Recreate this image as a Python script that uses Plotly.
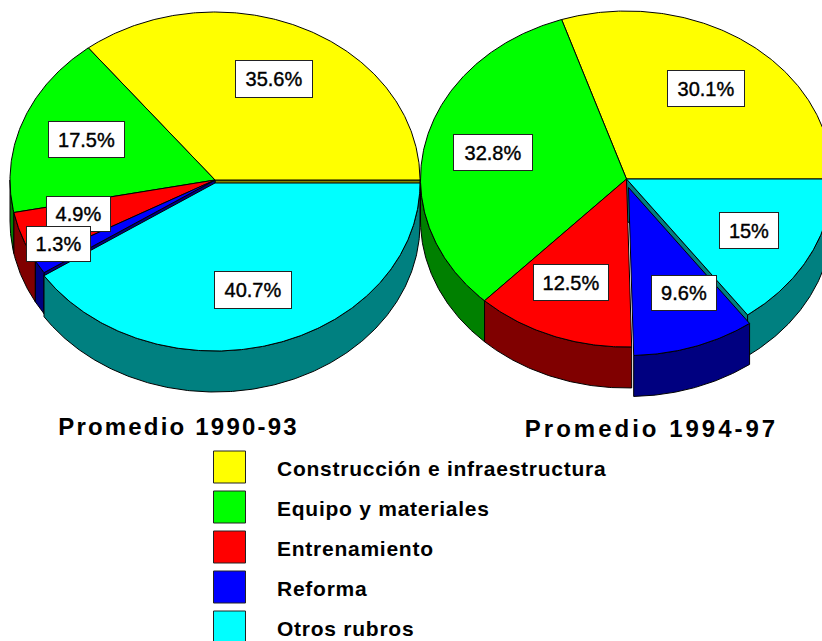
import numpy as np
import plotly.graph_objects as go

categories = ["Construcción e infraestructura", "Equipo y materiales", "Entrenamiento", "Reforma", "Otros rubros"]
values_1990_93 = [35.6, 17.5, 4.9, 1.3, 40.7]
values_1994_97 = [30.1, 32.8, 12.5, 9.6, 15.0]
labels_1990_93 = ["35.6%", "17.5%", "4.9%", "1.3%", "40.7%"]
labels_1994_97 = ["30.1%", "32.8%", "12.5%", "9.6%", "15%"]
titles = ["Promedio 1990-93", "Promedio 1994-97"]

TOP = ["#ffff00", "#00ff00", "#ff0000", "#0000ff", "#00ffff"]
SIDE = ["#808000", "#008000", "#800000", "#000080", "#008080"]
FONT = "Liberation Sans"
W, H = 822, 641
DEPTH = 41

fig = go.Figure()


def poly(xs, ys, color):
    fig.add_trace(go.Scatter(x=list(xs), y=list(ys), mode="lines", fill="toself", fillcolor=color,
                             line=dict(color="#000000", width=1), hoverinfo="skip", showlegend=False))


def arc(cx, cy, rx, ry, a0, a1):
    n = max(int(abs(a1 - a0)) * 2, 3)
    t = np.radians(np.linspace(a0, a1, n))
    return cx + rx * np.cos(t), cy - ry * np.sin(t)


def top(geom, a0, a1, color):
    cx, cy, rx, ry = geom
    ax, ay = arc(cx, cy, rx, ry, a0, a1)
    poly(np.r_[cx, ax, cx], np.r_[cy, ay, cy], color)


def outer_wall(geom, a0, a1, color):
    cx, cy, rx, ry = geom
    # only the near half of the rim can be seen
    a0, a1 = max(a0, 180), min(a1, 360)
    if a1 <= a0:
        return
    ax, ay = arc(cx, cy, rx, ry, a0, a1)
    poly(np.r_[ax, ax[::-1], ax[0]], np.r_[ay, ay[::-1] + DEPTH, ay[0]], color)


def cut_wall(geom, a, color):
    cx, cy, rx, ry = geom
    ex, ey = arc(cx, cy, rx, ry, a, a + 0.001)
    poly([cx, ex[0], ex[0], cx, cx], [cy, ey[0], ey[0] + DEPTH, cy + DEPTH, cy], color)


def bounds(values):
    edges = np.cumsum([0] + list(values)) / sum(values) * 360
    return edges[:-1], edges[1:]


# ---------- left pie: the last slice is pulled slightly towards the viewer
L = (215, 180, 205, 168)
L_PULLED = (215, 183, 205, 168)
a0, a1 = bounds(values_1990_93)
cut_wall(L, 0, SIDE[0])
cut_wall(L, a1[3], SIDE[3])
for i in range(4):
    outer_wall(L, a0[i], a1[i], SIDE[i])
for i in range(4):
    top(L, a0[i], a1[i], TOP[i])
outer_wall(L_PULLED, a0[4], a1[4], SIDE[4])
top(L_PULLED, a0[4], a1[4], TOP[4])

# ---------- right pie: the fourth slice is pulled out
R = (626.5, 179, 206, 168)
R_PULLED = (628.5, 187.5, 206, 168)
b0, b1 = bounds(values_1994_97)
cut_wall(R, b0[4], SIDE[4])
for i in (1, 2, 4):
    outer_wall(R, b0[i], b1[i], SIDE[i])
for i in (0, 1, 2, 4):
    top(R, b0[i], b1[i], TOP[i])
outer_wall(R_PULLED, b0[3], b1[3], SIDE[3])
top(R_PULLED, b0[3], b1[3], TOP[3])

# ---------- slice labels
left_boxes = [(274, 79, 78, 38), (86, 139, 77, 37), (78, 214, 65, 36), (58, 244, 65, 36), (253, 290, 78, 38)]
right_boxes = [(706, 88, 78, 37), (493, 152, 80, 37), (571, 282, 76, 37), (684, 293, 66, 36), (749, 230, 60, 37)]
for text, (x, y, w, h) in list(zip(labels_1990_93, left_boxes)) + list(zip(labels_1994_97, right_boxes)):
    fig.add_annotation(x=x, y=y, text=text, showarrow=False, width=w - 2, height=h - 2,
                       bgcolor="#ffffff", bordercolor="#222222", borderwidth=1, borderpad=0,
                       align="center", valign="middle", font=dict(family=FONT, size=20, color="#000000"))

# ---------- titles
for text, x, y in zip(titles, (178.5, 651.5), (429, 431)):
    fig.add_trace(go.Scatter(x=[x], y=[y], mode="text", text=[text], textposition="middle center",
                             textfont=dict(family=FONT, size=24, color="#000000", weight="bold"),
                             hoverinfo="skip", showlegend=False))

# ---------- legend
legend_y = [467, 507, 547, 587, 627]
fig.add_trace(go.Scatter(x=[229.5] * 5, y=legend_y, mode="markers",
                         marker=dict(symbol="square", size=32, color=TOP, line=dict(color="#222222", width=1)),
                         hoverinfo="skip", showlegend=False))
fig.add_trace(go.Scatter(x=[277] * 5, y=[v + 4 for v in legend_y], mode="text", text=categories,
                         textposition="middle right",
                         textfont=dict(family=FONT, size=21, color="#000000", weight="bold"),
                         hoverinfo="skip", showlegend=False))

fig.update_layout(width=W, height=H, margin=dict(l=0, r=0, t=0, b=0), paper_bgcolor="#ffffff",
                  plot_bgcolor="#ffffff", showlegend=False, hovermode=False,
                  xaxis=dict(range=[0, W], visible=False, fixedrange=True),
                  yaxis=dict(range=[H, 0], visible=False, fixedrange=True))

post = """
document.body.style.margin = '0';
document.querySelectorAll('.textpoint text').forEach(function (t) {
  var s = t.textContent;
  t.style.letterSpacing = s === 'Promedio 1994-97' ? '3px' : (s === 'Promedio 1990-93' ? '2.2px' : '0.75px');
});
document.querySelectorAll('.annotation-text').forEach(function (t) {
  t.style.stroke = '#000000';
  t.style.strokeWidth = '0.4px';
});
"""
fig.write_html("out.html", post_script=post, config={"displayModeBar": False})
